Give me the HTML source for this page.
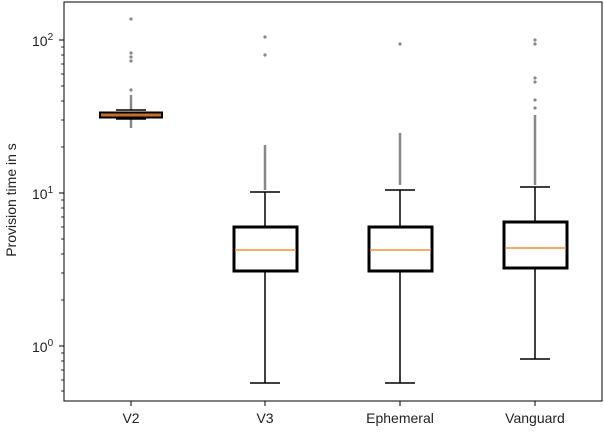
<!DOCTYPE html><html><head><style>body{margin:0;background:#fff}</style></head><body>
<svg width="604" height="429" xmlns="http://www.w3.org/2000/svg" font-family="Liberation Sans, DejaVu Sans, sans-serif">
<rect width="604" height="429" fill="#fff"/>
<g stroke="#000" stroke-width="1">
<line x1="64" y1="40" x2="59" y2="40"/><line x1="64" y1="193" x2="59" y2="193"/><line x1="64" y1="346" x2="59" y2="346"/>
<g stroke-width="0.8">
<line x1="64" y1="391" x2="61" y2="391"/><line x1="64" y1="380" x2="61" y2="380"/><line x1="64" y1="370" x2="61" y2="370"/><line x1="64" y1="361" x2="61" y2="361"/><line x1="64" y1="353" x2="61" y2="353"/>
<line x1="64" y1="300" x2="61" y2="300"/><line x1="64" y1="273" x2="61" y2="273"/><line x1="64" y1="254" x2="61" y2="254"/><line x1="64" y1="239" x2="61" y2="239"/><line x1="64" y1="227" x2="61" y2="227"/><line x1="64" y1="217" x2="61" y2="217"/><line x1="64" y1="208" x2="61" y2="208"/><line x1="64" y1="200" x2="61" y2="200"/>
<line x1="64" y1="147" x2="61" y2="147"/><line x1="64" y1="120" x2="61" y2="120"/><line x1="64" y1="101" x2="61" y2="101"/><line x1="64" y1="86" x2="61" y2="86"/><line x1="64" y1="74" x2="61" y2="74"/><line x1="64" y1="64" x2="61" y2="64"/><line x1="64" y1="55" x2="61" y2="55"/><line x1="64" y1="47" x2="61" y2="47"/>
</g>
<line x1="131" y1="401" x2="131" y2="406"/><line x1="265" y1="401" x2="265" y2="406"/><line x1="400" y1="401" x2="400" y2="406"/><line x1="535" y1="401" x2="535" y2="406"/>
</g>
<g font-size="14" fill="#222">
<text x="32" y="46">10<tspan font-size="10" dy="-6">2</tspan></text>
<text x="32" y="199">10<tspan font-size="10" dy="-6">1</tspan></text>
<text x="32" y="352">10<tspan font-size="10" dy="-6">0</tspan></text>
<g text-anchor="middle"><text x="131" y="423">V2</text><text x="265" y="423">V3</text><text x="400" y="423">Ephemeral</text><text x="535" y="423">Vanguard</text></g>
<text transform="translate(16,200) rotate(-90)" text-anchor="middle">Provision time in s</text>
</g>
<g stroke="#888" stroke-width="2.5">
<line x1="131" y1="119" x2="131" y2="128"/><line x1="131" y1="95" x2="131" y2="110"/>
<line x1="265" y1="145" x2="265" y2="190"/><line x1="400" y1="133" x2="400" y2="185"/><line x1="535" y1="115" x2="535" y2="185"/>
</g>
<g fill="#888">
<circle cx="131" cy="19" r="1.6"/><circle cx="131" cy="53" r="1.6"/><circle cx="131" cy="57" r="1.6"/><circle cx="131" cy="61" r="1.6"/><circle cx="131" cy="90" r="1.6"/>
<circle cx="265" cy="37" r="1.6"/><circle cx="265" cy="55" r="1.6"/>
<circle cx="400" cy="44" r="1.6"/>
<circle cx="535" cy="40" r="1.6"/><circle cx="535" cy="44" r="1.6"/><circle cx="535" cy="78" r="1.6"/><circle cx="535" cy="82" r="1.6"/><circle cx="535" cy="100" r="1.6"/><circle cx="535" cy="108" r="1.6"/>
</g>
<g stroke="#000" stroke-width="1.5">
<line x1="116" y1="110" x2="146" y2="110"/><line x1="116" y1="119" x2="146" y2="119"/>
<rect x="100" y="112.5" width="62" height="5" fill="#c8702a" stroke-width="2"/>
</g>
<g stroke="#000" stroke-width="1.5" fill="none">
<line x1="265" y1="192" x2="265" y2="227"/><line x1="265" y1="271" x2="265" y2="383"/><line x1="250" y1="192" x2="280" y2="192"/><line x1="250" y1="383" x2="280" y2="383"/>
<line x1="400" y1="190" x2="400" y2="227"/><line x1="400" y1="271" x2="400" y2="383"/><line x1="385" y1="190" x2="415" y2="190"/><line x1="385" y1="383" x2="415" y2="383"/>
<line x1="535" y1="187" x2="535" y2="222"/><line x1="535" y1="268" x2="535" y2="359"/><line x1="520" y1="187" x2="550" y2="187"/><line x1="520" y1="359" x2="550" y2="359"/>
</g>
<g stroke="#000" stroke-width="3" fill="none">
<rect x="234" y="227" width="63" height="44"/><rect x="369" y="227" width="63" height="44"/><rect x="504" y="222" width="63" height="46"/>
</g>
<g stroke="#f0903a" stroke-width="1.5">
<line x1="235" y1="250" x2="296" y2="250"/><line x1="370" y1="250" x2="431" y2="250"/><line x1="505" y1="248" x2="566" y2="248"/>
</g>
<rect x="64" y="2" width="538" height="399" fill="none" stroke="#000" stroke-width="1"/>
</svg>
</body></html>
